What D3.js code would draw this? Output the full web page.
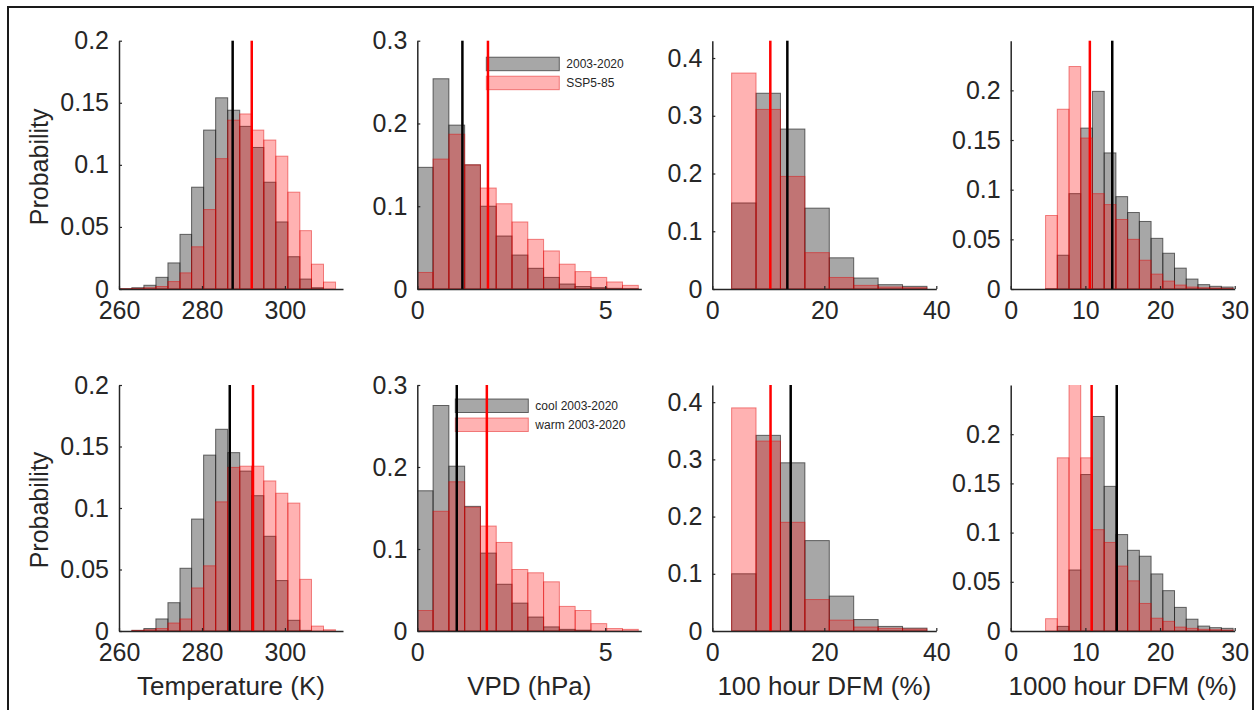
<!DOCTYPE html>
<html>
<head>
<meta charset="utf-8">
<script src="https://cdn.jsdelivr.net/npm/d3@7"></script>
<style>
  body { margin: 0; background: #fff; }
  svg { display: block; font-family: "Liberation Sans", Arial, Helvetica, sans-serif; }
</style>
</head>
<body>
<svg id="fig" width="1256" height="710"></svg>
<script>
// ---- Histogram bin edges for each variable ----
const tempEdges = [260.2, 263.1, 266.0, 268.9, 271.8, 274.7, 277.5, 280.4, 283.3, 286.2,
                   289.1, 292.0, 294.9, 297.8, 300.7, 303.6, 306.4, 309.3, 312.2];
const vpdEdges = [0, 0.42, 0.84, 1.26, 1.68, 2.10, 2.52, 2.94, 3.36, 3.78, 4.20, 4.62, 5.04, 5.46, 5.88];
const dfm100Edges = [3.45, 7.81, 12.17, 16.53, 20.89, 25.25, 29.61, 33.97, 38.33];
const dfm1000Edges = [4.67, 6.24, 7.81, 9.38, 10.95, 12.52, 14.09, 15.66, 17.23, 18.80,
                      20.37, 21.94, 23.51, 25.08, 26.65, 28.22, 29.79];

// ---- Top row: 2003-2020 (grey) vs SSP5-85 (red) ----
const tempHist = [0.0003, 0.001, 0.003, 0.0094, 0.021, 0.044, 0.082, 0.128, 0.154, 0.144,
                  0.131, 0.114, 0.086, 0.054, 0.026, 0.008, 0.001, 0];
const tempSSP = [0.0002, 0.0005, 0.001, 0.002, 0.006, 0.013, 0.034, 0.064, 0.105, 0.136,
                 0.141, 0.128, 0.120, 0.107, 0.078, 0.047, 0.020, 0.0056];
const vpdHist = [0.147, 0.254, 0.198, 0.150, 0.100, 0.064, 0.041, 0.025, 0.014, 0.006,
                 0.003, 0.0016, 0.0008, 0.0004];
const vpdSSP = [0.020, 0.157, 0.187, 0.150, 0.122, 0.103, 0.081, 0.060, 0.046, 0.030,
                0.021, 0.014, 0.0085, 0.0044];
const dfm100Hist = [0.149, 0.339, 0.277, 0.140, 0.054, 0.019, 0.0075, 0.0046];
const dfm100SSP = [0.374, 0.311, 0.195, 0.063, 0.020, 0.0063, 0.0035, 0.0023];
const dfm1000Hist = [0.0003, 0.034, 0.096, 0.162, 0.199, 0.137, 0.093, 0.077, 0.068, 0.051,
                     0.036, 0.021, 0.010, 0.0044, 0.0027, 0.002];
const dfm1000SSP = [0.074, 0.181, 0.224, 0.152, 0.096, 0.085, 0.070, 0.050, 0.029, 0.015,
                    0.008, 0.004, 0.002, 0.0013, 0.001, 0.0007];

// ---- Bottom row: cool (grey) vs warm (red) years, 2003-2020 ----
const tempCool = [0, 0.0005, 0.002, 0.0098, 0.023, 0.051, 0.091, 0.143, 0.164, 0.145,
                  0.130, 0.110, 0.077, 0.041, 0.0087, 0.0005, 0, 0];
const tempWarm = [0, 0.0005, 0.001, 0.002, 0.0065, 0.0098, 0.035, 0.053, 0.105, 0.133,
                  0.134, 0.134, 0.122, 0.112, 0.104, 0.042, 0.004, 0.001];
const vpdCool = [0.171, 0.275, 0.201, 0.152, 0.095, 0.057, 0.034, 0.017, 0.005, 0.002,
                 0.001, 0, 0, 0];
const vpdWarm = [0.025, 0.146, 0.182, 0.151, 0.128, 0.108, 0.075, 0.071, 0.060, 0.030,
                 0.025, 0.009, 0.003, 0.002];
const dfm100Cool = [0.100, 0.342, 0.294, 0.158, 0.061, 0.020, 0.008, 0.005];
const dfm100Warm = [0.390, 0.332, 0.190, 0.055, 0.019, 0.007, 0.0047, 0.0035];
const dfm1000Cool = [0, 0.0047, 0.062, 0.159, 0.218, 0.147, 0.098, 0.082, 0.076, 0.058,
                     0.041, 0.024, 0.012, 0.005, 0.0034, 0.0027];
const dfm1000Warm = [0.0125, 0.176, 0.268, 0.176, 0.103, 0.090, 0.066, 0.051, 0.028, 0.013,
                     0.0098, 0.004, 0.0027, 0.0017, 0.0013, 0.001];

// ---- Distribution means (vertical lines): [grey, red] ----
const meansTop = [[287.4, 292.0], [1.20, 1.88], [13.4, 10.36], [13.6, 10.6]];
const meansBottom = [[286.7, 292.3], [1.05, 1.85], [14.0, 10.4], [14.2, 10.84]];

// ---- Axis limits, ticks and labels per column ----
const xLimits = [[260, 314], [0, 5.96], [0, 40], [0, 30]];
const yLimits = [0.2, 0.3, 0.43, 0.25];
const xTickValues = [[260, 280, 300], [0, 5], [0, 20, 40], [0, 10, 20, 30]];
const yTickValues = [[0, 0.05, 0.1, 0.15, 0.2], [0, 0.1, 0.2, 0.3],
                     [0, 0.1, 0.2, 0.3, 0.4], [0, 0.05, 0.1, 0.15, 0.2]];
const xAxisTitles = ["Temperature (K)", "VPD (hPa)", "100 hour DFM (%)", "1000 hour DFM (%)"];
const yAxisTitle = "Probability";
const legendTop = ["2003-2020", "SSP5-85"];
const legendBottom = ["cool 2003-2020", "warm 2003-2020"];

const edgesByCol = [tempEdges, vpdEdges, dfm100Edges, dfm1000Edges];
const greyRows = [[tempHist, vpdHist, dfm100Hist, dfm1000Hist],
                  [tempCool, vpdCool, dfm100Cool, dfm1000Cool]];
const redRows = [[tempSSP, vpdSSP, dfm100SSP, dfm1000SSP],
                 [tempWarm, vpdWarm, dfm100Warm, dfm1000Warm]];
const meanRows = [meansTop, meansBottom];
const legendRows = [legendTop, legendBottom];

// ---- Layout ----
const colLeft = [119, 417.3, 712.3, 1010.7];
const plotW = 224;
const rowTop = [40.7, 385];
const rowBottom = [289, 631];
const ink = "#262626";

const svg = d3.select("#fig");
svg.append("rect").attr("width", 1256).attr("height", 710).attr("fill", "#fff");
// figure frame
svg.append("rect")
  .attr("x", 8).attr("y", 7).attr("width", 1245).attr("height", 740)
  .attr("fill", "none").attr("stroke", "#1a1a1a").attr("stroke-width", 2);

const greyStyle = { fill: "rgba(80,80,80,0.5)", stroke: "rgba(30,30,30,0.65)" };
const redStyle = { fill: "rgba(255,0,0,0.3)", stroke: "rgba(225,0,0,0.45)" };

function drawBars(g, x, y, edges, values, style) {
  const bins = values.map((v, i) => ({ v, x0: edges[i], x1: edges[i + 1] })).filter(d => d.v > 0);
  g.selectAll(null).data(bins).enter().append("rect")
    .attr("x", d => x(d.x0))
    .attr("width", d => x(d.x1) - x(d.x0))
    .attr("y", d => y(d.v))
    .attr("height", d => y(0) - y(d.v))
    .attr("fill", style.fill)
    .attr("stroke", style.stroke)
    .attr("stroke-width", 1);
}

for (let r = 0; r < 2; r++) {
  for (let c = 0; c < 4; c++) {
    const L = colLeft[c], T = rowTop[r], B = rowBottom[r];
    const x = d3.scaleLinear().domain(xLimits[c]).range([L, L + plotW]);
    const y = d3.scaleLinear().domain([0, yLimits[c]]).range([B, T]);
    const g = svg.append("g");
    const clipId = `clip-${r}-${c}`;
    g.append("clipPath").attr("id", clipId)
      .append("rect").attr("x", L).attr("y", T).attr("width", plotW).attr("height", B - T);

    const bars = g.append("g").attr("clip-path", `url(#${clipId})`);
    drawBars(bars, x, y, edgesByCol[c], greyRows[r][c], greyStyle);
    drawBars(bars, x, y, edgesByCol[c], redRows[r][c], redStyle);

    // legend in the VPD panel
    if (c === 1) {
      const lg = g.append("g");
      const lx = r === 0 ? L + 69 : L + 38;
      const ly = r === 0 ? T + 16.5 : T + 14;
      const labels = legendRows[r];
      [greyStyle, redStyle].forEach((st, i) => {
        lg.append("rect")
          .attr("x", lx).attr("y", ly + i * 19)
          .attr("width", 73).attr("height", 13.5)
          .attr("fill", st.fill).attr("stroke", st.stroke).attr("stroke-width", 1);
        lg.append("text")
          .attr("x", lx + 80).attr("y", ly + i * 19 + 7)
          .attr("dy", "0.35em")
          .attr("font-size", 12).attr("fill", ink)
          .text(labels[i]);
      });
    }

    // mean lines
    const [mGrey, mRed] = meanRows[r][c];
    g.append("line")
      .attr("x1", x(mGrey)).attr("x2", x(mGrey)).attr("y1", y(0)).attr("y2", T)
      .attr("stroke", "#000").attr("stroke-width", 2.5);
    g.append("line")
      .attr("x1", x(mRed)).attr("x2", x(mRed)).attr("y1", y(0)).attr("y2", T)
      .attr("stroke", "#ff0000").attr("stroke-width", 2.5);

    // axes
    const fmt = d3.format("");
    const xa = g.append("g").attr("transform", `translate(0,${B})`)
      .call(d3.axisBottom(x).tickValues(xTickValues[c]).tickFormat(fmt)
        .tickSizeInner(-3).tickSizeOuter(0).tickPadding(12));
    const ya = g.append("g").attr("transform", `translate(${L},0)`)
      .call(d3.axisLeft(y).tickValues(yTickValues[c]).tickFormat(fmt)
        .tickSizeInner(-3).tickSizeOuter(0).tickPadding(10));
    [xa, ya].forEach(a => {
      a.select(".domain").attr("stroke", ink).attr("stroke-width", 1.5);
      a.selectAll(".tick line").attr("stroke", ink).attr("stroke-width", 1.2);
      a.selectAll(".tick text").attr("fill", ink).attr("font-size", 25)
        .attr("font-family", "'Liberation Sans', Arial, Helvetica, sans-serif");
    });

    if (c === 0) {
      g.append("text")
        .attr("transform", `translate(48,${(T + B) / 2 + 2}) rotate(-90)`)
        .attr("text-anchor", "middle")
        .attr("font-size", 25).attr("fill", ink)
        .text(yAxisTitle);
    }
    if (r === 1) {
      g.append("text")
        .attr("x", L + plotW / 2).attr("y", B + 64)
        .attr("text-anchor", "middle")
        .attr("font-size", 26).attr("fill", ink)
        .text(xAxisTitles[c]);
    }
  }
}
</script>
</body>
</html>
